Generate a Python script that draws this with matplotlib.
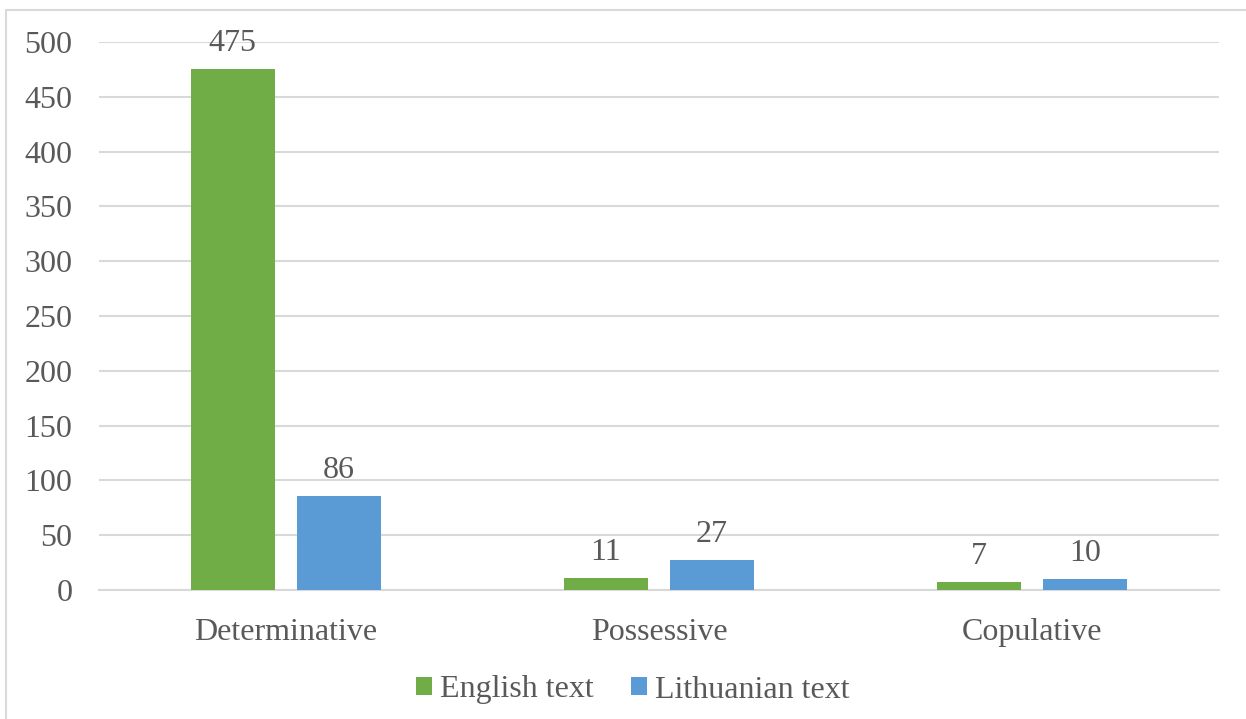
import numpy as np
import matplotlib.pyplot as plt
from matplotlib.patches import Rectangle

# counts per construction type
categories = ['Determinative', 'Possessive', 'Copulative']
english = [475, 11, 7]
lithuanian = [86, 27, 10]
series_names = ['English text', 'Lithuanian text']
yticks = [0, 50, 100, 150, 200, 250, 300, 350, 400, 450, 500]

green = '#70AD47'
blue = '#5B9BD5'
txt = '#595959'
grid = '#D9D9D9'
fs = 23

plt.rcParams['font.family'] = ['Liberation Serif', 'DejaVu Serif']

fig = plt.figure(figsize=(12.46, 7.19), dpi=100)
ax = fig.add_axes([99/1246, 1-590/719, 1120/1246, 548/719])

# outer chart frame
fig.patches.append(Rectangle((6/1246, -0.1), 1.2, 1-10/719+0.1,
                             transform=fig.transFigure, fill=False,
                             edgecolor=grid, linewidth=1.5))

x = np.arange(len(categories))
w = 0.225
b1 = ax.bar(x - 0.142, english, w, color=green, label=series_names[0], zorder=3)
b2 = ax.bar(x + 0.142, lithuanian, w, color=blue, label=series_names[1], zorder=3)

for bars, vals in ((b1, english), (b2, lithuanian)):
    for r, v in zip(bars, vals):
        ax.text(r.get_x() + r.get_width()/2, v + 10, str(v), ha='center',
                va='bottom', fontsize=fs, color=txt, zorder=4)

ax.set_xlim(-0.5, 2.5)
ax.set_ylim(0, 500)
ax.set_yticks(yticks)
ax.set_xticks(x)
ax.set_xticklabels(categories)
ax.tick_params(axis='both', length=0, labelsize=fs, labelcolor=txt)
ax.tick_params(axis='y', pad=19)
ax.tick_params(axis='x', pad=20)
ax.yaxis.grid(True, color=grid, linewidth=1.5, zorder=0)
for s in ('top', 'right', 'left'):
    ax.spines[s].set_visible(False)
ax.spines['bottom'].set_color(grid)
ax.spines['bottom'].set_linewidth(1.5)

leg = fig.legend(loc='center', bbox_to_anchor=(0.508, 1-690/719), ncol=2,
                 frameon=False, fontsize=fs, handlelength=0.5, handleheight=0.5,
                 handletextpad=0.25, columnspacing=1.15)
for t in leg.get_texts():
    t.set_color(txt)

fig.savefig('out.png', dpi=100)
